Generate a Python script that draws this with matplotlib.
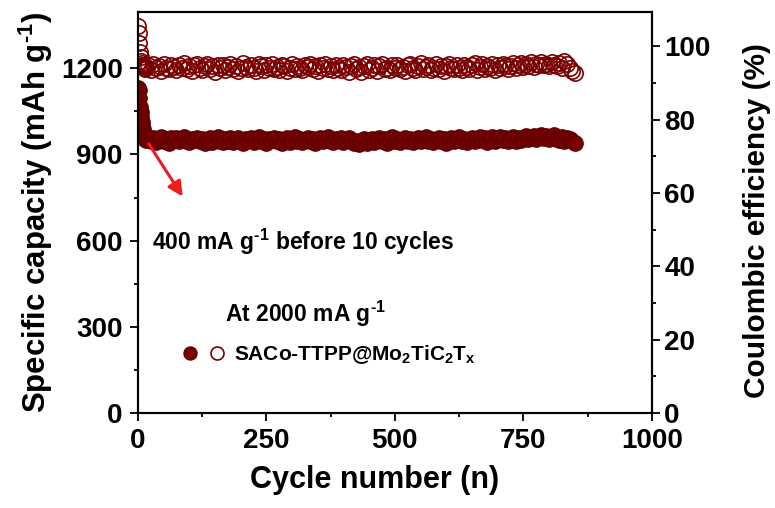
import numpy as np
import matplotlib.pyplot as plt
from matplotlib.legend_handler import HandlerTuple

plt.rcParams['font.family'] = ['Liberation Sans', 'DejaVu Sans']
plt.rcParams['font.weight'] = 'bold'
plt.rcParams['mathtext.fontset'] = 'custom'
plt.rcParams['mathtext.rm'] = 'Liberation Sans:bold'
plt.rcParams['mathtext.bf'] = 'Liberation Sans:bold'
plt.rcParams['mathtext.it'] = 'Liberation Sans:bold'
plt.rcParams['mathtext.default'] = 'bf'

# cycles 1-15 one by one, then every 5 cycles up to 850
cycles_early = list(range(1, 16))
cycles_main = list(range(20, 851, 5))

cap_early = [1130, 1125, 1095, 1065, 1048, 1030, 1012, 1000, 990, 978, 965, 958, 952, 956, 950]
cap_main = [955, 948, 958, 944, 952, 960, 947, 953, 941, 956,
            950, 958, 945, 952, 961, 948, 943, 955, 950, 957,
            946, 953, 940, 950, 957, 944, 951, 959, 947, 942,
            953, 948, 956, 943, 950, 958, 945, 939, 952, 949,
            957, 944, 951, 960, 946, 953, 941, 955, 949, 958,
            945, 952, 940, 950, 956, 943, 951, 959, 947, 954,
            944, 950, 957, 946, 953, 941, 949, 958, 945, 952,
            960, 947, 943, 954, 949, 956, 942, 951, 958, 946,
            940, 948, 936, 945, 952, 938, 947, 955, 943, 950,
            957, 946, 953, 941, 950, 959, 947, 954, 944, 951,
            958, 946, 953, 942, 950, 957, 945, 952, 960, 948,
            955, 943, 951, 958, 946, 953, 941, 950, 957, 945,
            952, 960, 948, 955, 943, 951, 958, 946, 954, 961,
            949, 956, 944, 952, 959, 947, 955, 962, 950, 957,
            945, 953, 960, 948, 956, 951, 958, 963, 952, 960,
            965, 955, 962, 968, 957, 964, 953, 960, 966, 955,
            950, 961, 948, 957, 952, 945, 938]

ce_early = [105.5, 103.5, 101, 98.5, 97, 96, 95.5, 95, 94.8, 94.6, 94.2, 94.8, 93.9, 94.6, 94.3]
ce_main = [94.8, 93.6, 95.1, 94.0, 94.6, 93.3, 95.3, 94.2, 93.8, 95.0,
           94.4, 93.5, 94.9, 94.1, 95.4, 93.7, 94.5, 93.2, 94.8, 95.2,
           94.0, 93.4, 94.7, 95.3, 93.9, 94.5, 93.1, 94.9, 94.2, 95.0,
           93.6, 94.4, 95.2, 93.8, 94.7, 93.3, 94.1, 95.4, 94.3, 93.7,
           94.9, 94.0, 93.2, 95.1, 94.5, 93.6, 94.8, 94.1, 95.3, 93.9,
           94.3, 93.5, 95.0, 94.6, 93.3, 94.2, 95.2, 93.8, 94.7, 94.0,
           93.4, 94.9, 94.3, 95.3, 93.7, 94.5, 93.2, 94.8, 94.1, 95.1,
           93.9, 94.6, 93.4, 95.0, 94.2, 93.6, 94.9, 94.4, 93.1, 94.7,
           95.2, 93.8, 94.3, 93.0, 94.6, 95.1, 93.5, 94.0, 94.8, 93.3,
           94.5, 95.3, 93.9, 94.2, 93.4, 94.9, 94.1, 95.0, 93.7, 94.4,
           93.2, 94.8, 95.2, 94.0, 93.6, 94.6, 95.4, 93.8, 94.3, 94.9,
           93.5, 94.2, 95.1, 93.9, 94.7, 93.3, 94.5, 95.3, 94.0, 93.7,
           94.8, 94.1, 93.4, 95.0, 94.4, 93.8, 94.9, 95.4, 93.6, 94.3,
           95.1, 93.9, 94.6, 94.2, 95.3, 93.5, 94.8, 94.0, 95.2, 94.5,
           93.8, 94.7, 95.4, 94.1, 94.9, 95.5, 94.3, 95.1, 94.6, 95.6,
           94.4, 95.3, 94.8, 95.7, 94.9, 95.2, 94.5, 95.8, 95.0, 94.6,
           95.4, 94.2, 95.9, 95.1, 94.0, 93.2, 92.8]

cycles = cycles_early + cycles_main
capacity = cap_early + cap_main
efficiency = ce_early + ce_main

red = '#7a0000'

fig = plt.figure(figsize=(7.75, 5.08), dpi=100)
ax = fig.add_axes([0.178, 0.187, 0.663, 0.789])
ax2 = ax.twinx()

h_cap, = ax.plot(cycles, capacity, 'o', color=red, mec='#5e0000', ms=11, mew=1, linestyle='none')
h_ce, = ax2.plot(cycles, efficiency, 'o', mfc='none', mec=red, ms=11, mew=1.2, linestyle='none')

ax.set_xlim(0, 1000)
ax.set_ylim(0, 1395)
ax2.set_ylim(0, 109.3)
ax.set_xticks([0, 250, 500, 750, 1000])
ax.set_xticks(np.arange(125, 1000, 250), minor=True)
ax.set_yticks([0, 300, 600, 900, 1200])
ax.set_yticks([150, 450, 750, 1050], minor=True)
ax2.set_yticks([0, 20, 40, 60, 80, 100])
ax2.set_yticks([10, 30, 50, 70, 90], minor=True)

for a in (ax, ax2):
    a.tick_params(which='major', length=6, width=1.3, labelsize=20, direction='out', pad=3)
    a.tick_params(which='minor', length=3, width=1.3, direction='out')
    for s in a.spines.values():
        s.set_linewidth(1.5)
ax.tick_params(axis='y', pad=5)
ax.tick_params(axis='x', pad=5)

ax.set_xlabel('Cycle number (n)', fontsize=22, fontweight='bold')
ax.xaxis.set_label_coords(0.461, -0.13)
ax.set_ylabel('Specific capacity (mAh g$^{\\text{-1}}$)', fontsize=22.5, fontweight='bold', labelpad=4)
ax2.set_ylabel('Coulombic efficiency (%)', fontsize=21.5, fontweight='bold')
ax2.yaxis.set_label_coords(1.177, 0.48)

ax.annotate('', xy=(90, 745), xytext=(18, 945),
            arrowprops=dict(arrowstyle='-|>', color='#ee1c1c', lw=2.2, mutation_scale=22))
ax.text(27, 596, '400 mA g$^{\\text{-1}}$ before 10 cycles', fontsize=16.5, fontweight='bold', va='center')
ax.text(169, 345, 'At 2000 mA g$^{\\text{-1}}$', fontsize=16.5, fontweight='bold', va='center')

leg = ax.legend([(h_cap, h_ce)], ['SACo-TTPP@Mo$_2$TiC$_2$T$_x$'],
                handler_map={tuple: HandlerTuple(ndivide=None, pad=0.6)},
                frameon=False, fontsize=15,
                loc='center left', bbox_to_anchor=(0.05, 0.145), handlelength=2.0,
                handletextpad=0.5, markerscale=0.85)

fig.savefig('out.png', dpi=100)
